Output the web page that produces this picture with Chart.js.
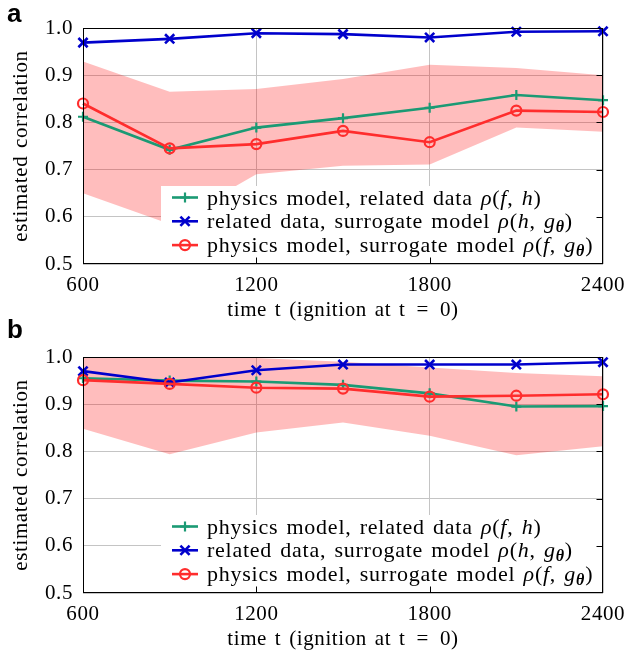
<!DOCTYPE html>
<html>
<head>
<meta charset="utf-8">
<script src="https://cdn.jsdelivr.net/npm/chart.js@4/dist/chart.umd.min.js"></script>
<style>
  body { margin: 0; background: #fff; }
  #wrap { position: relative; width: 633px; height: 657px; }
  canvas { position: absolute; left: 0; }
  .tag { position: absolute; left: 7px; font: bold 26px "Liberation Sans", Arial, sans-serif; line-height: 26px; color: #000; }
</style>
</head>
<body>
<div id="wrap">
  <canvas id="chartA" width="633" height="328" style="top:0"></canvas>
  <canvas id="chartB" width="633" height="328" style="top:329px"></canvas>
  <div class="tag" style="top:0">a</div>
  <div class="tag" style="top:316px">b</div>
</div>
<script>
// time points (s after ignition)
const times = [600, 900, 1200, 1500, 1800, 2100, 2400];
const xTicks = [600, 1200, 1800, 2400];

// panel a
const aPhysRel  = [0.812, 0.742, 0.789, 0.809, 0.831, 0.858, 0.847];
const aRelSur   = [0.969, 0.977, 0.989, 0.987, 0.980, 0.992, 0.993];
const aPhysSur  = [0.840, 0.745, 0.754, 0.782, 0.758, 0.825, 0.822];
const aBandLow  = [0.650, 0.585, 0.690, 0.708, 0.711, 0.789, 0.780];
const aBandHigh = [0.929, 0.865, 0.871, 0.892, 0.922, 0.915, 0.900];

// panel b
const bPhysRel  = [0.955, 0.950, 0.948, 0.941, 0.923, 0.895, 0.896];
const bRelSur   = [0.970, 0.946, 0.972, 0.984, 0.984, 0.984, 0.989];
const bPhysSur  = [0.951, 0.943, 0.935, 0.933, 0.916, 0.918, 0.921];
const bBandLow  = [0.848, 0.794, 0.840, 0.861, 0.833, 0.792, 0.811];
const bBandHigh = [1.000, 1.000, 0.998, 0.990, 0.978, 0.966, 0.959];

const labels = [
  'physics model, related data ρ(f, h)',
  'related data, surrogate model ρ(h, gθ)',
  'physics model, surrogate model ρ(f, gθ)'
];
// legend text split in upright / italic / subscript pieces
const legendParts = [
  [['physics model, related data ', 'n'], ['ρ', 'i'], ['(', 'n'], ['f', 'i'], [', ', 'n'], ['h', 'i'], [')', 'n']],
  [['related data, surrogate model ', 'n'], ['ρ', 'i'], ['(', 'n'], ['h', 'i'], [', ', 'n'], ['g', 'i'], ['θ', 's'], [')', 'n']],
  [['physics model, surrogate model ', 'n'], ['ρ', 'i'], ['(', 'n'], ['f', 'i'], [', ', 'n'], ['g', 'i'], ['θ', 's'], [')', 'n']]
];

const GREEN = '#1b9a74', BLUE = '#0000cc', RED = '#ff2d2d';
const SERIF = '"Liberation Serif", "Times New Roman", serif';
const FS = 21, LFS = 22;

Chart.defaults.font.family = SERIF;
Chart.defaults.font.size = FS;
Chart.defaults.color = '#000';

function drawMarker(ctx, style, x, y, r) {
  ctx.beginPath();
  if (style === 'cross') {
    ctx.moveTo(x - r, y); ctx.lineTo(x + r, y);
    ctx.moveTo(x, y - r); ctx.lineTo(x, y + r);
  } else if (style === 'crossRot') {
    const d = r * Math.SQRT1_2;
    ctx.moveTo(x - d, y - d); ctx.lineTo(x + d, y + d);
    ctx.moveTo(x - d, y + d); ctx.lineTo(x + d, y - d);
  } else {
    ctx.arc(x, y, r, 0, Math.PI * 2);
  }
  ctx.stroke();
}

function drawRich(ctx, parts, x, y) {
  parts.forEach(([t, s]) => {
    let dy = 0;
    if (s === 'i') ctx.font = 'italic ' + LFS + 'px ' + SERIF;
    else if (s === 's') { ctx.font = 'bold italic 16px ' + SERIF; dy = 4; }
    else ctx.font = LFS + 'px ' + SERIF;
    ctx.fillText(t, x, y + dy);
    x += ctx.measureText(t).width;
  });
}

// wider set text, closer to the TeX look of the original
const spacingPlugin = {
  id: 'spacing',
  beforeDraw(chart) {
    chart.ctx.letterSpacing = '0.6px';
    chart.ctx.wordSpacing = '2px';
  }
};

// legend box, frame and inner tick marks
const framePlugin = {
  id: 'frame',
  afterDatasetsDraw(chart) {
    const { ctx, chartArea: a, scales } = chart;
    ctx.save();
    const lx = a.left + 78, ly = a.bottom - 78;
    ctx.fillStyle = '#fff';
    ctx.fillRect(lx, ly, a.right - lx, a.bottom - ly);

    ctx.letterSpacing = '0.75px';
    [2, 3, 4].forEach((di, i) => {
      const ds = chart.data.datasets[di];
      const yy = a.bottom - 66.5 + i * 23.8;
      ctx.strokeStyle = ds.borderColor;
      ctx.lineWidth = ds.borderWidth;
      ctx.beginPath();
      ctx.moveTo(a.left + 89, yy); ctx.lineTo(a.left + 115, yy);
      ctx.stroke();
      ctx.lineWidth = ds.pointBorderWidth;
      drawMarker(ctx, ds.pointStyle, a.left + 102, yy, ds.pointStyle === 'crossRot' ? 6.5 : 5);
      ctx.fillStyle = '#000';
      ctx.textBaseline = 'alphabetic';
      drawRich(ctx, legendParts[i], a.left + 124, yy + 7);
    });

    ctx.strokeStyle = '#000';
    ctx.lineWidth = 1;
    const L = Math.round(a.left) + 0.5, R = Math.round(a.right) - 0.5;
    const T = Math.round(a.top) + 0.5, B = Math.round(a.bottom) - 0.5;
    ctx.strokeRect(L, T, R - L, B - T);
    ctx.beginPath();
    [0.6, 0.7, 0.8, 0.9].forEach(v => {
      const py = Math.round(scales.y.getPixelForValue(v)) + 0.5;
      ctx.moveTo(R, py); ctx.lineTo(R - 6, py);
    });
    [1200, 1800].forEach(v => {
      const px = Math.round(scales.x.getPixelForValue(v)) + 0.5;
      ctx.moveTo(px, B); ctx.lineTo(px, B - 6);
    });
    ctx.stroke();
    ctx.restore();
  }
};

function lineSet(label, data, color, style, bw, order) {
  return {
    label, data: times.map((t, i) => ({ x: t, y: data[i] })),
    borderColor: color, backgroundColor: 'rgba(0,0,0,0)', borderWidth: 2.6,
    pointStyle: style, pointRadius: style === 'crossRot' ? 6.5 : 5,
    pointBorderColor: color, pointBackgroundColor: 'rgba(0,0,0,0)',
    pointBorderWidth: bw, fill: false, tension: 0, clip: false, order
  };
}

function makePanel(id, physRel, relSur, physSur, low, high) {
  return new Chart(document.getElementById(id), {
    type: 'line',
    data: {
      datasets: [
        { label: 'band low', data: times.map((t, i) => ({ x: t, y: low[i] })),
          borderWidth: 0, pointRadius: 0, fill: false, order: 6 },
        { label: 'band high', data: times.map((t, i) => ({ x: t, y: high[i] })),
          borderWidth: 0, pointRadius: 0, fill: '-1',
          backgroundColor: 'rgba(255,0,0,0.26)', order: 5 },
        lineSet(labels[0], physRel, GREEN, 'cross', 2.2, 3),
        lineSet(labels[1], relSur, BLUE, 'crossRot', 2.6, 2),
        lineSet(labels[2], physSur, RED, 'circle', 2.2, 1)
      ]
    },
    options: {
      responsive: false,
      animation: false,
      layout: { padding: { left: 0, right: 24, top: 28, bottom: 0 } },
      plugins: { legend: { display: false }, tooltip: { enabled: false } },
      scales: {
        x: {
          type: 'linear', min: 600, max: 2400,
          afterBuildTicks: s => { s.ticks = xTicks.map(v => ({ value: v })); },
          afterFit: s => { s.height = 64; },
          grid: { color: '#c4c4c4', drawTicks: false },
          border: { display: false },
          ticks: { padding: 9, maxRotation: 0, callback: v => String(v) },
          title: { display: true, text: 'time t (ignition at t\u2002=\u20020)', padding: { top: 0, bottom: 5 } }
        },
        y: {
          min: 0.5, max: 1.0,
          afterFit: s => { s.width = 83; },
          grid: { color: '#c4c4c4', drawTicks: false },
          border: { display: false },
          ticks: { stepSize: 0.1, padding: 10, callback: v => v.toFixed(1) },
          title: { display: true, text: 'estimated correlation', padding: { top: 9, bottom: 0 } }
        }
      }
    },
    plugins: [spacingPlugin, framePlugin]
  });
}

makePanel('chartA', aPhysRel, aRelSur, aPhysSur, aBandLow, aBandHigh);
makePanel('chartB', bPhysRel, bRelSur, bPhysSur, bBandLow, bBandHigh);
</script>
</body>
</html>
